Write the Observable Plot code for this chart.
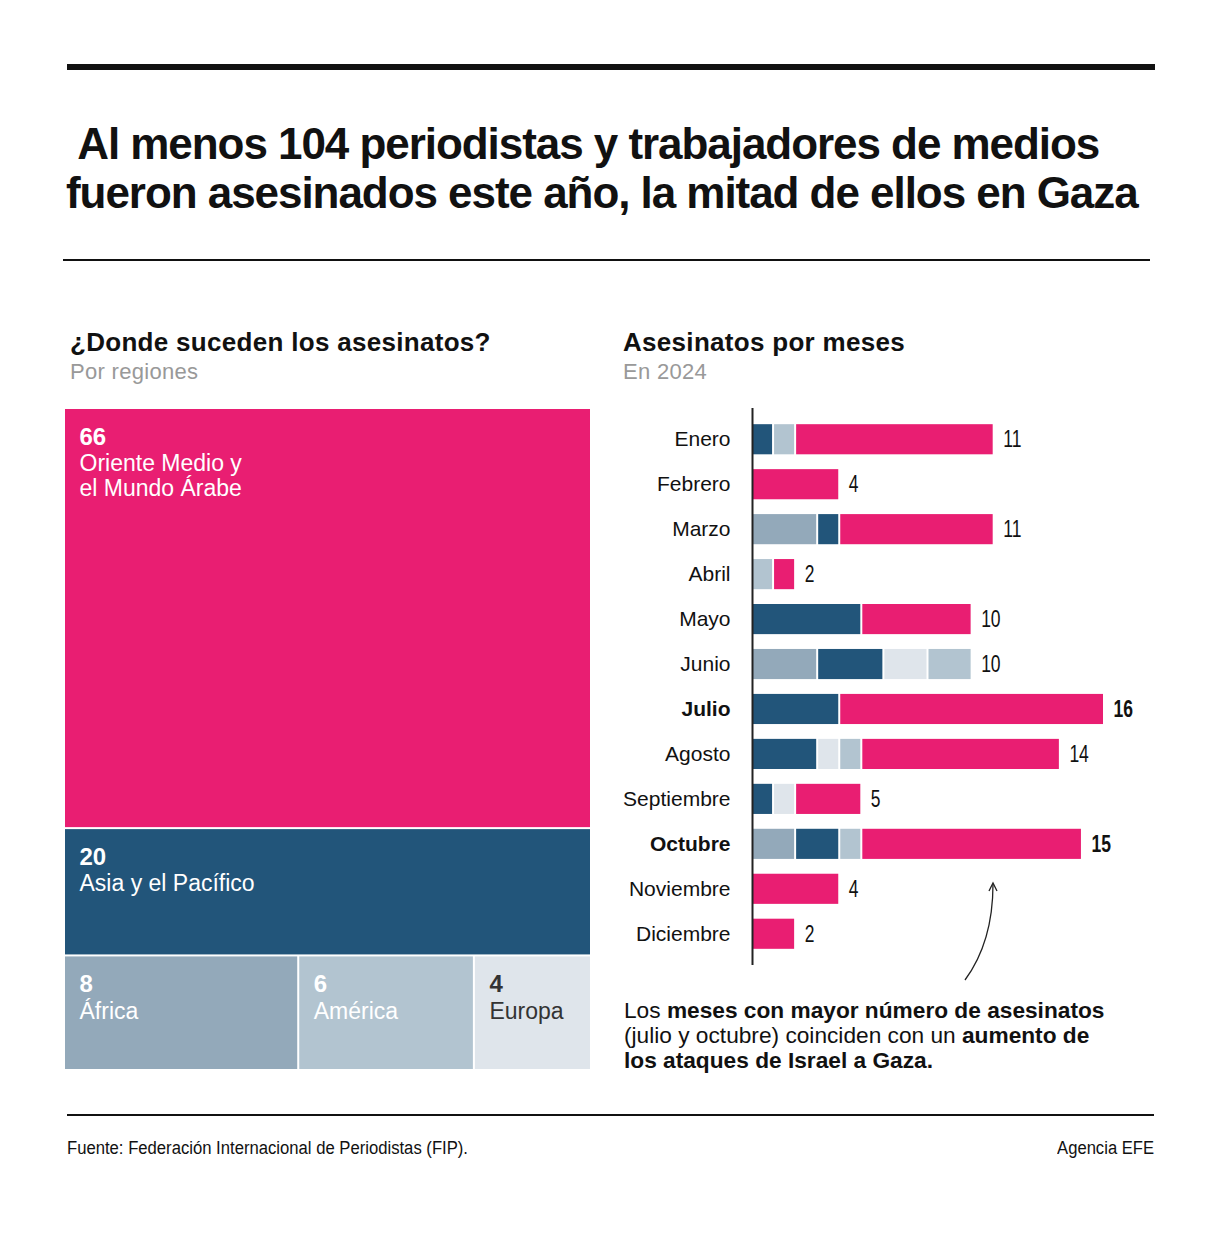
<!DOCTYPE html>
<html>
<head>
<meta charset="utf-8">
<script src="https://cdn.jsdelivr.net/npm/d3@7"></script>
<script src="https://cdn.jsdelivr.net/npm/@observablehq/plot@0.6"></script>
<style>
  body { margin: 0; background: #fff; }
  #page { position: relative; width: 1220px; height: 1233px; background: #fff; font-family: "Liberation Sans", Arial, Helvetica, sans-serif; color: #111; overflow: hidden; }
  .abs { position: absolute; }
  .h2 { font-size: 26px; font-weight: bold; line-height: 26px; letter-spacing: 0.3px; white-space: nowrap; }
  .sub { font-size: 22px; color: #999; line-height: 22px; letter-spacing: 0.3px; white-space: nowrap; }
  .foot { font-size: 18px; line-height: 18px; white-space: nowrap; }
</style>
</head>
<body>
<div id="page">
  <div class="abs" style="left:67px;top:64px;width:1088px;height:6px;background:#111"></div>
  <div class="abs" style="left:66px;top:119px;font-size:44px;font-weight:bold;line-height:49px;letter-spacing:-1.05px;white-space:nowrap;">&nbsp;Al menos 104 periodistas y trabajadores de medios<br>fueron asesinados este año, la mitad de ellos en Gaza</div>
  <div class="abs" style="left:63px;top:259px;width:1087px;height:2px;background:#111"></div>

  <div class="abs h2" style="left:70px;top:329px;">¿Donde suceden los asesinatos?</div>
  <div class="abs sub" style="left:70px;top:361px;">Por regiones</div>
  <div class="abs h2" style="left:623px;top:329px;">Asesinatos por meses</div>
  <div class="abs sub" style="left:623px;top:361px;">En 2024</div>

  <div class="abs" id="treemap" style="left:65px;top:409px;"></div>
  <div class="abs" id="bars" style="left:600px;top:408px;"></div>

  <svg class="abs" style="left:950px;top:870px;" width="60" height="120">
    <path d="M15,110 Q43,72 43,14" fill="none" stroke="#222" stroke-width="1.3"/>
    <path d="M39,21 L43,13 L47,21" fill="none" stroke="#222" stroke-width="1.3"/>
  </svg>

  <div class="abs" style="left:624px;top:998px;font-size:22.7px;line-height:25px;white-space:nowrap;">Los <b>meses con mayor número de asesinatos</b><br>(julio y octubre) coinciden con un <b>aumento de</b><br><b>los ataques de Israel a Gaza.</b></div>

  <div class="abs" style="left:67px;top:1114px;width:1087px;height:2px;background:#111"></div>
  <div class="abs foot" id="src" style="left:67px;top:1139px;transform-origin:left center;">Fuente: Federación Internacional de Periodistas (FIP).</div>
  <div class="abs foot" id="credit" style="right:66px;top:1139px;transform-origin:right center;">Agencia EFE</div>
</div>

<script>
// ---------- DATA ----------
const months = ["Enero","Febrero","Marzo","Abril","Mayo","Junio","Julio","Agosto","Septiembre","Octubre","Noviembre","Diciembre"];
const highlightedMonths = ["Julio","Octubre"];

// stack order in the bars
const regions = ["África","Asia y el Pacífico","Europa","América","Oriente Medio y el Mundo Árabe"];
const africa     = [0,0,3,0,0,3,0,0,0,2,0,0];
const asia       = [1,0,1,0,5,3,4,3,1,2,0,0];
const europe     = [0,0,0,0,0,2,0,1,1,0,0,0];
const america    = [1,0,0,1,0,2,0,1,0,1,0,0];
const middleEast = [9,4,7,1,5,0,12,9,3,10,4,2];
const seriesByRegion = [africa, asia, europe, america, middleEast];

const regionColors = ["#93A9BA","#22557A","#DFE5EB","#B2C4D0","#E91E72"];

// treemap
const treeRegions = ["Oriente Medio y el Mundo Árabe","Asia y el Pacífico","África","América","Europa"];
const treeLabels  = ["Oriente Medio y\nel Mundo Árabe","Asia y el Pacífico","África","América","Europa"];
const treeValues  = [66,20,8,6,4];
const treeRows    = [0,1,2,2,2];   // grouping of cells into rows
const darkTextRegions = ["Europa"];

// ---------- TREEMAP ----------
const grand = d3.sum(treeValues);
const rowIds = [...new Set(treeRows)];
const rowTotals = rowIds.map(r => d3.sum(treeValues.filter((v,i) => treeRows[i] === r)));
const cells = [];
let yAcc = 0;
rowIds.forEach((r, ri) => {
  let xAcc = 0;
  treeValues.forEach((v, i) => {
    if (treeRows[i] !== r) return;
    cells.push({
      region: treeRegions[i], label: treeLabels[i], value: v,
      x1: xAcc / rowTotals[ri], x2: (xAcc + v) / rowTotals[ri],
      y1: yAcc, y2: yAcc + rowTotals[ri]
    });
    xAcc += v;
  });
  yAcc += rowTotals[ri];
});

const light = cells.filter(d => !darkTextRegions.includes(d.region));
const dark = cells.filter(d => darkTextRegions.includes(d.region));
const fontFam = '"Liberation Sans", Arial, Helvetica, sans-serif';

function cellText(data, color) {
  return [
    Plot.text(data, {x: "x1", y: "y1", text: d => String(d.value), dx: 14, dy: 18, textAnchor: "start", lineAnchor: "top", fontSize: 24, fontWeight: "bold", fill: color}),
    Plot.text(data, {x: "x1", y: "y1", text: "label", dx: 14, dy: 44, textAnchor: "start", lineAnchor: "top", fontSize: 23, lineHeight: 1.09, fill: color})
  ];
}

const treemap = Plot.plot({
  width: 527, height: 662,
  margin: 0,
  x: {domain: [0, 1], axis: null},
  y: {domain: [0, grand], axis: null, reverse: true},
  color: {domain: regions, range: regionColors},
  style: {fontFamily: fontFam, background: "transparent", overflow: "visible"},
  marks: [
    Plot.rect(cells, {x1: "x1", x2: "x2", y1: "y1", y2: "y2", fill: "region", insetRight: 2, insetBottom: 2}),
    ...cellText(light, "white"),
    ...cellText(dark, "#333")
  ]
});
document.getElementById("treemap").appendChild(treemap);

// ---------- BARS ----------
const barData = [];
months.forEach((m, i) => {
  regions.forEach((r, j) => {
    const v = seriesByRegion[j][i];
    if (v > 0) barData.push({month: m, region: r, value: v});
  });
});
const totals = months.map((m, i) => ({month: m, total: d3.sum(seriesByRegion, s => s[i])}));
const isHL = d => highlightedMonths.includes(d.month);

const bars = Plot.plot({
  width: 560, height: 557,
  marginLeft: 152, marginRight: 55, marginTop: 0, marginBottom: 0,
  x: {domain: [0, 16], axis: null},
  y: {domain: months, axis: null, paddingInner: 0.33, paddingOuter: 0.36, round: false},
  color: {domain: regions, range: regionColors},
  style: {fontFamily: fontFam, background: "transparent", overflow: "visible"},
  marks: [
    Plot.barX(barData, {x: "value", y: "month", fill: "region", order: regions, insetRight: 2}),
    Plot.ruleX([0], {stroke: "#222", strokeWidth: 2}),
    Plot.text(totals.filter(d => !isHL(d)), {x: "total", y: "month", text: d => String(d.total), dx: 8, textAnchor: "start", fontSize: 23, fill: "#111"}),
    Plot.text(totals.filter(isHL), {x: "total", y: "month", text: d => String(d.total), dx: 8, textAnchor: "start", fontSize: 23, fontWeight: "bold", fill: "#111"}),
    Plot.text(totals.filter(d => !isHL(d)), {y: "month", text: "month", frameAnchor: "left", dx: -22, textAnchor: "end", fontSize: 21, fill: "#111"}),
    Plot.text(totals.filter(isHL), {y: "month", text: "month", frameAnchor: "left", dx: -22, textAnchor: "end", fontSize: 21, fontWeight: "bold", fill: "#111"})
  ]
});
document.getElementById("bars").appendChild(bars);

// condensed look for the value labels (first two text marks)
const textGroups = bars.querySelectorAll('g[aria-label="text"]');
[textGroups[0], textGroups[1]].forEach(g => {
  if (!g) return;
  g.querySelectorAll("text").forEach(el => {
    const w = el.getComputedTextLength();
    el.setAttribute("textLength", (w * 0.76).toFixed(1));
    el.setAttribute("lengthAdjust", "spacingAndGlyphs");
  });
});
// condensed footer texts
[["src", 401], ["credit", 97]].forEach(([id, target]) => {
  const el = document.getElementById(id);
  const w = el.getBoundingClientRect().width;
  el.style.transform = `scaleX(${target / w})`;
});
</script>
</body>
</html>
